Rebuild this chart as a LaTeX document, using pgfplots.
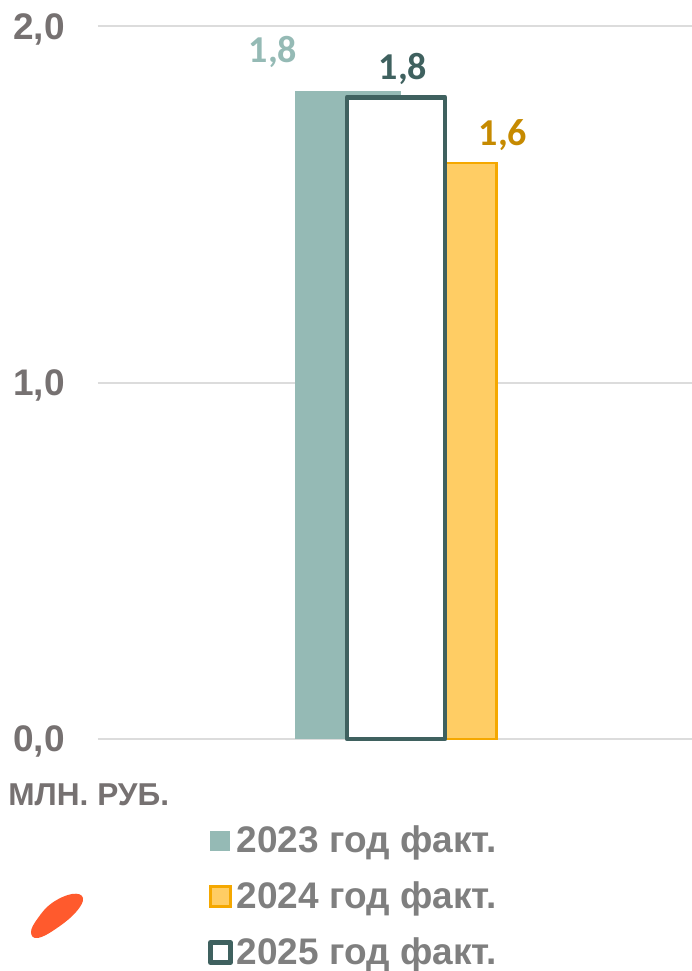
\documentclass[border=0pt]{standalone}
\usepackage{pgfplots}
\usepackage{fontspec}
\pgfplotsset{compat=1.18}
\setmainfont{Liberation Sans}
\newfontfamily\calibri{Carlito}
\definecolor{cA}{HTML}{95BAB5}
\definecolor{cB}{HTML}{FFCD64}
\definecolor{cBs}{HTML}{F5A800}
\definecolor{cC}{HTML}{3F615F}
\definecolor{cBt}{HTML}{C68A00}
\definecolor{tick}{HTML}{767171}
\definecolor{leg}{HTML}{7F7F7F}
\definecolor{gridc}{HTML}{DCDCDC}
\definecolor{blob}{HTML}{FF5A2D}
\begin{document}
\begin{tikzpicture}
\useasboundingbox (0pt,0pt) rectangle (346pt,485.5pt);
\begin{axis}[
  at={(49pt,116pt)}, anchor=south west,
  width=297pt, height=356.5pt, scale only axis,
  xmin=-1, xmax=1, ymin=0, ymax=2,
  axis lines=none,
  clip=false,
  /pgf/number format/.cd, use comma, fixed, fixed zerofill, precision=1, assume math mode=true, /pgfplots/.cd,
  legend style={draw=none, fill=none, at={(0.1845,-0.1158)}, anchor=north west,
    font=\bfseries\fontsize{18.5pt}{21pt}\selectfont, text=leg, row sep=9pt,
    inner xsep=0pt, inner ysep=0pt,
    /tikz/every even column/.append style={column sep=1pt}},
  legend cell align=left,
  legend image code/.code={\path[#1] (0pt,-5pt) rectangle (10pt,5pt);},
]
\path[draw=gridc, line width=1pt] (axis cs:-1,0) -- (axis cs:1,0);
\path[draw=gridc, line width=1pt] (axis cs:-1,1) -- (axis cs:1,1);
\path[draw=gridc, line width=1pt] (axis cs:-1,2) -- (axis cs:1,2);
\addplot[ybar, bar width=53pt, bar shift=-23.5pt, fill=cA, draw=none,
  nodes near coords,
  every node near coord/.append style={font=\calibri\bfseries\fontsize{19pt}{20pt}\selectfont, text=cA, xshift=-61pt, yshift=8pt}]
  coordinates {(0,1.818)};
\addlegendentry{2023 год факт.}
\addplot[ybar, bar width=51pt, bar shift=25.25pt, fill=cB, draw=cBs, line width=1.2pt,
  nodes near coords,
  every node near coord/.append style={font=\calibri\bfseries\fontsize{19pt}{20pt}\selectfont, text=cBt, xshift=54pt, yshift=2pt}]
  coordinates {(0,1.616)};
\addlegendentry{2024 год факт.}
\addplot[ybar, bar width=49pt, bar shift=0.5pt, fill=white, draw=cC, line width=2.4pt, line join=round,
  nodes near coords,
  every node near coord/.append style={font=\calibri\bfseries\fontsize{19pt}{20pt}\selectfont, text=cC, xshift=4pt, yshift=2pt}]
  coordinates {(0,1.80)};
\addlegendentry{2025 год факт.}
\end{axis}
\begin{scope}[x=0.5pt,y=-0.5pt,shift={(0pt,485.5pt)}]
\node[font=\bfseries\fontsize{18.5pt}{20pt}\selectfont, text=tick, anchor=east, inner sep=0pt] at (65,29) {2,0};
\node[font=\bfseries\fontsize{18.5pt}{20pt}\selectfont, text=tick, anchor=east, inner sep=0pt] at (65,385) {1,0};
\node[font=\bfseries\fontsize{18.5pt}{20pt}\selectfont, text=tick, anchor=east, inner sep=0pt] at (65,741) {0,0};
\node[font=\bfseries\fontsize{15.8pt}{18pt}\selectfont, text=tick, anchor=west, inner sep=0pt] at (8,795) {МЛН. РУБ.};
\fill[blob] plot[smooth cycle, tension=0.7] coordinates {(83,898) (72,894) (52,903) (38,918) (31,932) (38,938) (57,928) (76,912)};
\end{scope}
\end{tikzpicture}
\end{document}
